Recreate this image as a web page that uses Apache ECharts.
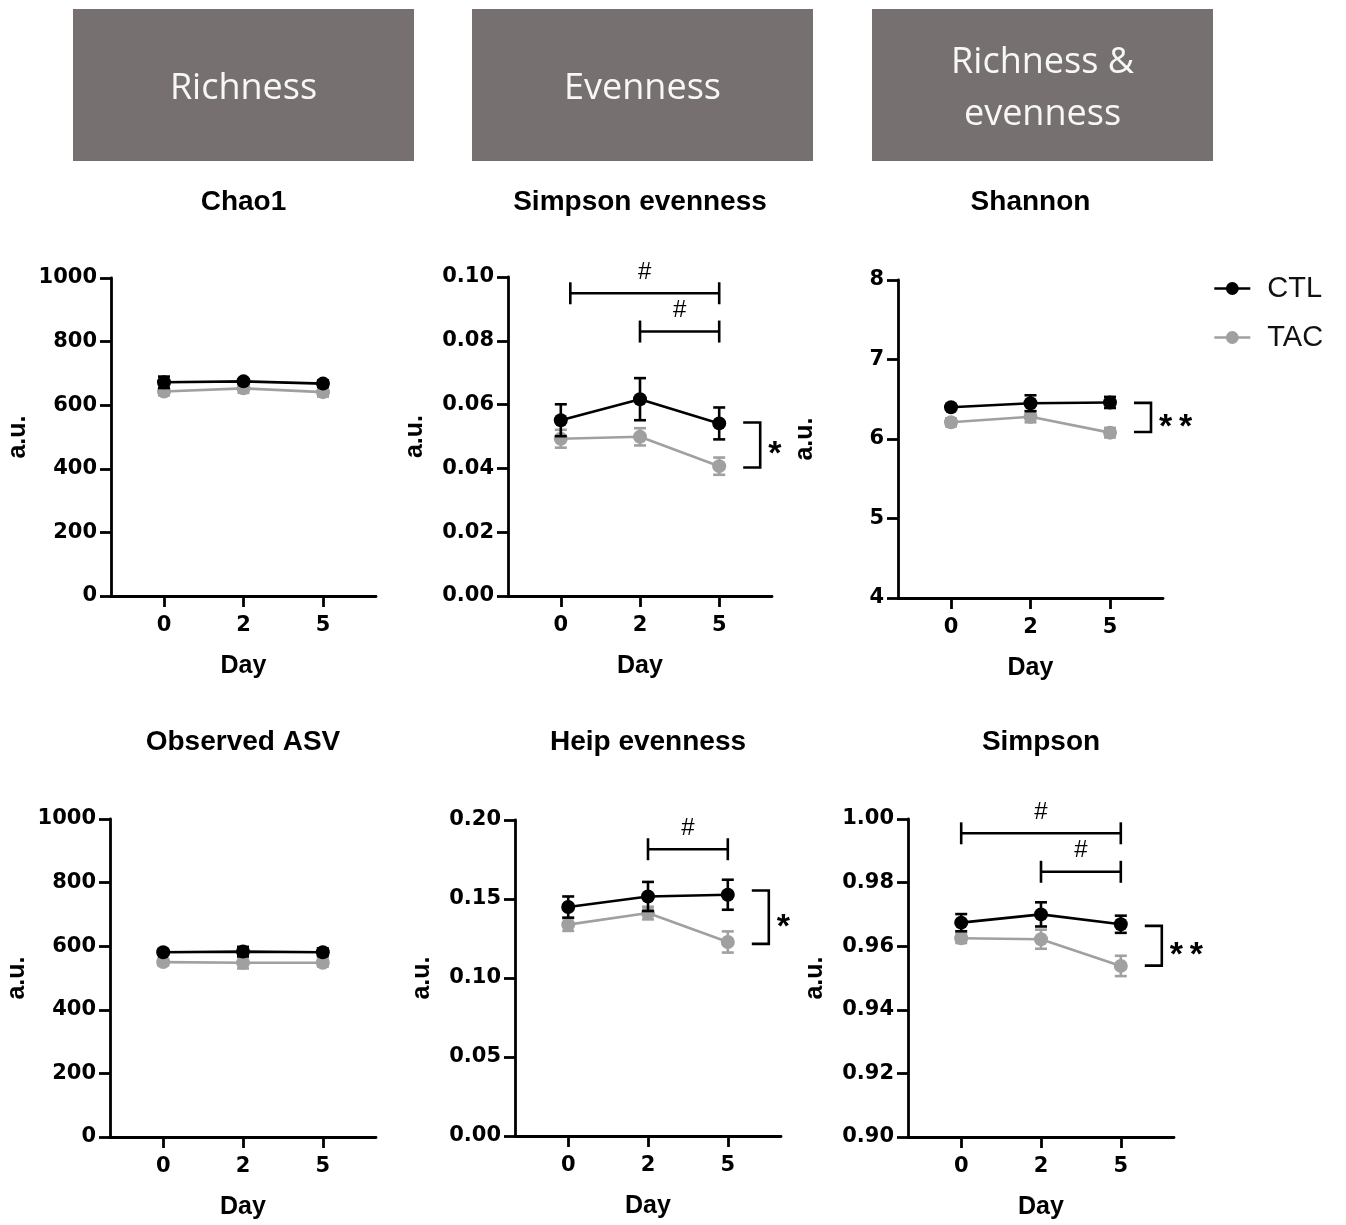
<!DOCTYPE html>
<html><head><meta charset="utf-8">
<script src="https://cdn.jsdelivr.net/npm/echarts@6/dist/echarts.min.js"></script>
<style>html,body{margin:0;padding:0;background:#fff}#c{width:1346px;height:1225px}</style>
</head><body><div id="c"></div>
<script>
// ---------- data ----------
const days = ['0', '2', '5'];
const groups = ['CTL', 'TAC'];
const headers = ['Richness', 'Evenness', 'Richness &\nevenness'];
const panelTitles = ['Chao1', 'Simpson evenness', 'Shannon', 'Observed ASV', 'Heip evenness', 'Simpson'];

const chao1CTL = [672, 675, 668], chao1CTLerr = [18, 7, 10];
const chao1TAC = [643, 653, 641], chao1TACerr = [12, 14, 14];

const simpEvenCTL = [0.0551, 0.0617, 0.0541], simpEvenCTLerr = [0.0050, 0.0066, 0.0050];
const simpEvenTAC = [0.0493, 0.0499, 0.0407], simpEvenTACerr = [0.0028, 0.0027, 0.0027];

const shannonCTL = [6.40, 6.45, 6.46], shannonCTLerr = [0.03, 0.10, 0.07];
const shannonTAC = [6.21, 6.28, 6.08], shannonTACerr = [0.05, 0.07, 0.06];

const asvCTL = [581, 583, 581], asvCTLerr = [8, 15, 12];
const asvTAC = [550, 548, 548], asvTACerr = [10, 18, 12];

const heipCTL = [0.1449, 0.1516, 0.1527], heipCTLerr = [0.0067, 0.0092, 0.0095];
const heipTAC = [0.1338, 0.1411, 0.1228], heipTACerr = [0.0040, 0.0040, 0.0067];

const simpsonCTL = [0.9674, 0.9700, 0.9669], simpsonCTLerr = [0.0027, 0.0038, 0.0027];
const simpsonTAC = [0.9625, 0.9622, 0.9538], simpsonTACerr = [0.0015, 0.0030, 0.0032];

// y-axis ranges: [min, max, interval, decimals]
const chao1Axis = [0, 1000, 200, 0];
const simpEvenAxis = [0, 0.10, 0.02, 2];
const shannonAxis = [4, 8, 1, 0];
const asvAxis = [0, 1000, 200, 0];
const heipAxis = [0, 0.20, 0.05, 2];
const simpsonAxis = [0.90, 1.00, 0.02, 2];

// significance: "#" brackets [fromDayIndex, toDayIndex, yValue]
const simpEvenHash = [[0.12, 2, 0.0949], [1, 2, 0.0829]];
const shannonHash = [];
const heipHash = [[1, 2, 0.1815]];
const simpsonHash = [[0, 2, 0.9955], [1, 2, 0.9834]];
const chao1Hash = [], asvHash = [];
// group brackets: [dayIndex, yTop, yBottom], label
const simpEvenSig = [[2, 0.0544, 0.0403]], simpEvenSigLabel = ['*'];
const shannonSig = [[2, 6.454, 6.088]], shannonSigLabel = ['**'];
const heipSig = [[2, 0.1554, 0.1216]], heipSigLabel = ['*'];
const simpsonSig = [[2, 0.9664, 0.9539]], simpsonSigLabel = ['**'];

// ---------- layout ----------
const panels = [
  {ctl: chao1CTL, ctlE: chao1CTLerr, tac: chao1TAC, tacE: chao1TACerr, ax: chao1Axis, hash: chao1Hash, sig: [], sigL: []},
  {ctl: simpEvenCTL, ctlE: simpEvenCTLerr, tac: simpEvenTAC, tacE: simpEvenTACerr, ax: simpEvenAxis, hash: simpEvenHash, sig: simpEvenSig, sigL: simpEvenSigLabel},
  {ctl: shannonCTL, ctlE: shannonCTLerr, tac: shannonTAC, tacE: shannonTACerr, ax: shannonAxis, hash: shannonHash, sig: shannonSig, sigL: shannonSigLabel},
  {ctl: asvCTL, ctlE: asvCTLerr, tac: asvTAC, tacE: asvTACerr, ax: asvAxis, hash: asvHash, sig: [], sigL: []},
  {ctl: heipCTL, ctlE: heipCTLerr, tac: heipTAC, tacE: heipTACerr, ax: heipAxis, hash: heipHash, sig: heipSig, sigL: heipSigLabel},
  {ctl: simpsonCTL, ctlE: simpsonCTLerr, tac: simpsonTAC, tacE: simpsonTACerr, ax: simpsonAxis, hash: simpsonHash, sig: simpsonSig, sigL: simpsonSigLabel}
];
const gridBoxes = [
  {left: 111, top: 278, width: 265, height: 318},
  {left: 508, top: 277, width: 264, height: 319},
  {left: 898, top: 280, width: 265, height: 318},
  {left: 110, top: 819, width: 266, height: 318},
  {left: 515, top: 820, width: 266, height: 316},
  {left: 908, top: 819, width: 266, height: 318}
];
const headerBoxes = [{x: 73, w: 341}, {x: 472, w: 341}, {x: 872, w: 341}];
const titleY = [202, 202, 202, 742, 742, 742];

const BLACK = '#000000', GRAY = '#a0a0a0';
const tickFont = 'DejaVu Sans';
const txtFont = 'Liberation Sans';
const AXW = 2.8, LW = 2.6;

const grid = [], xAxis = [], yAxis = [], series = [];
const idx = [0, 1, 2];

function errRender(color) {
  return function (params, api) {
    const x = api.value(0), lo = api.value(1), hi = api.value(2);
    const a = api.coord([x, hi]), b = api.coord([x, lo]);
    const s = {stroke: color, lineWidth: LW};
    return {type: 'group', children: [
      {type: 'line', shape: {x1: a[0], y1: a[1], x2: b[0], y2: b[1]}, style: s},
      {type: 'line', shape: {x1: a[0] - 6, y1: a[1], x2: a[0] + 6, y2: a[1]}, style: s},
      {type: 'line', shape: {x1: b[0] - 6, y1: b[1], x2: b[0] + 6, y2: b[1]}, style: s}
    ]};
  };
}

panels.forEach((p, i) => {
  const g = gridBoxes[i];
  grid.push({left: g.left, top: g.top, width: g.width, height: g.height, containLabel: false});
  xAxis.push({
    gridIndex: i, type: 'value', min: -2 / 3, max: 8 / 3,
    name: 'Day', nameLocation: 'middle', nameGap: 58,
    nameTextStyle: {fontFamily: txtFont, fontWeight: 'bold', fontSize: 25, color: '#000'},
    axisLine: {show: true, onZero: false, lineStyle: {color: '#000', width: AXW}},
    axisTick: {show: true, length: 11, customValues: idx, lineStyle: {color: '#000', width: AXW}},
    axisLabel: {customValues: idx, margin: 19, fontFamily: tickFont, fontWeight: 'bold', fontSize: 21, color: '#000',
      formatter: v => days[Math.round(v)]},
    splitLine: {show: false}
  });
  yAxis.push({
    gridIndex: i, type: 'value', min: p.ax[0], max: p.ax[1], interval: p.ax[2],
    name: 'a.u.', nameLocation: 'middle', nameGap: 80,
    nameTextStyle: {fontFamily: txtFont, fontWeight: 'bold', fontSize: 25, color: '#000'},
    axisLine: {show: true, onZero: false, lineStyle: {color: '#000', width: AXW}},
    axisTick: {show: true, length: 11, lineStyle: {color: '#000', width: AXW}},
    axisLabel: {margin: 14, fontFamily: tickFont, fontWeight: 'bold', fontSize: 21, color: '#000',
      formatter: v => v.toFixed(p.ax[3])},
    splitLine: {show: false}
  });
  const mk = (vals, errs) => idx.map(k => [k, vals[k] - errs[k], vals[k] + errs[k]]);
  series.push({type: 'custom', name: 'TAC err', xAxisIndex: i, yAxisIndex: i, z: 2, silent: true,
    renderItem: errRender(GRAY), data: mk(p.tac, p.tacE)});
  series.push({type: 'line', name: 'TAC', xAxisIndex: i, yAxisIndex: i, z: 3,
    data: idx.map(k => [k, p.tac[k]]), symbol: 'circle', symbolSize: 14, showSymbol: true,
    lineStyle: {color: GRAY, width: LW}, itemStyle: {color: GRAY}});
  series.push({type: 'custom', name: 'CTL err', xAxisIndex: i, yAxisIndex: i, z: 4, silent: true,
    renderItem: errRender(BLACK), data: mk(p.ctl, p.ctlE)});
  series.push({type: 'line', name: 'CTL', xAxisIndex: i, yAxisIndex: i, z: 5,
    data: idx.map(k => [k, p.ctl[k]]), symbol: 'circle', symbolSize: 14, showSymbol: true,
    lineStyle: {color: BLACK, width: LW}, itemStyle: {color: BLACK}});
  if (p.hash.length) {
    series.push({type: 'custom', name: 'hash', xAxisIndex: i, yAxisIndex: i, z: 6, silent: true, clip: false,
      data: p.hash,
      renderItem: function (params, api) {
        const a = api.coord([api.value(0), api.value(2)]);
        const b = api.coord([api.value(1), api.value(2)]);
        const s = {stroke: '#000', lineWidth: LW};
        return {type: 'group', children: [
          {type: 'line', shape: {x1: a[0], y1: a[1], x2: b[0], y2: b[1]}, style: s},
          {type: 'line', shape: {x1: a[0], y1: a[1] - 11, x2: a[0], y2: a[1] + 11}, style: s},
          {type: 'line', shape: {x1: b[0], y1: b[1] - 11, x2: b[0], y2: b[1] + 11}, style: s},
          {type: 'text', style: {text: '#', x: (a[0] + b[0]) / 2, y: a[1] - 21, align: 'center', verticalAlign: 'middle',
            fontFamily: txtFont, fontSize: 24, fill: '#000'}}
        ]};
      }});
  }
  if (p.sig.length) {
    series.push({type: 'custom', name: 'sig', xAxisIndex: i, yAxisIndex: i, z: 6, silent: true, clip: false,
      data: p.sig,
      renderItem: function (params, api) {
        const t = api.coord([api.value(0), api.value(1)]);
        const b = api.coord([api.value(0), api.value(2)]);
        const x0 = t[0] + 24, x1 = t[0] + 41;
        const mid = (t[1] + b[1]) / 2;
        return {type: 'group', children: [
          {type: 'polyline', shape: {points: [[x0, t[1]], [x1, t[1]], [x1, b[1]], [x0, b[1]]]},
            style: {stroke: '#000', lineWidth: LW, fill: null}},
          {type: 'text', style: {text: p.sigL[params.dataIndex].split('').join('\u2009'), x: x1 + 8, y: mid + 10,
            align: 'left', verticalAlign: 'middle',
            fontFamily: txtFont, fontWeight: 'bold', fontSize: 34, fill: '#000'}}
        ]};
      }});
  }
});

const graphic = [];
headerBoxes.forEach((h, i) => {
  graphic.push({type: 'rect', shape: {x: h.x, y: 9, width: h.w, height: 152}, style: {fill: '#767170'}, silent: true});
  graphic.push({type: 'text', x: h.x + h.w / 2, y: 89, silent: true,
    style: {text: headers[i], fill: '#f7f7f7', fontFamily: 'Open Sans', fontSize: 36, lineHeight: 52,
      align: 'center', verticalAlign: 'middle', textAlign: 'center', textVerticalAlign: 'middle'}});
});
panelTitles.forEach((t, i) => {
  const g = gridBoxes[i];
  graphic.push({type: 'text', x: g.left + g.width / 2, y: titleY[i], silent: true,
    style: {text: t, fill: '#000', fontFamily: txtFont, fontWeight: 'bold', fontSize: 28,
      align: 'center', verticalAlign: 'middle', textAlign: 'center', textVerticalAlign: 'middle'}});
});

const chart = echarts.init(document.getElementById('c'), null, {renderer: 'canvas'});
chart.setOption({
  animation: false,
  backgroundColor: '#ffffff',
  grid, xAxis, yAxis, series, graphic,
  legend: {
    data: groups, orient: 'vertical', left: 1208, top: 269, itemWidth: 36, itemHeight: 16, itemGap: 20,
    selectedMode: false,
    lineStyle: {width: 2.6},
    textStyle: {fontFamily: txtFont, fontSize: 29, color: '#111', padding: [0, 0, 0, 12]}
  }
});
</script></body></html>
